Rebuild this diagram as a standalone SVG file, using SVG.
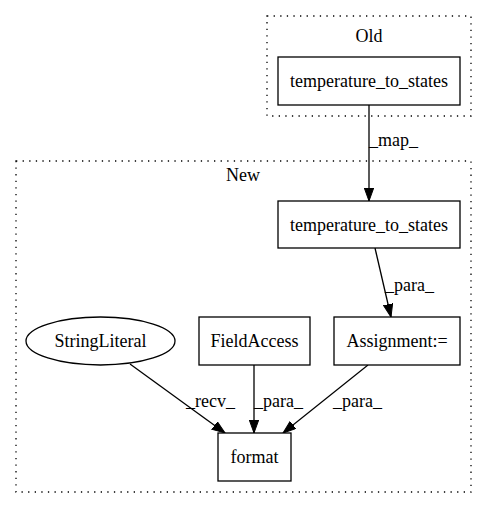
<svg xmlns="http://www.w3.org/2000/svg" width="487" height="508" viewBox="0 0 487 508">
<style>
text{font-family:"Liberation Serif","Times New Roman",serif;font-size:18px;fill:#000}
.c{text-anchor:middle}
.cl{fill:none;stroke:#000;stroke-width:1.3;stroke-dasharray:1.3,5.3}
.n{fill:#fff;stroke:#000;stroke-width:1.3}
.e{fill:none;stroke:#000;stroke-width:1.3;marker-end:url(#ah)}
</style>
<defs>
<marker id="ah" markerUnits="userSpaceOnUse" markerWidth="14" markerHeight="10" refX="13" refY="4.7" orient="auto">
<path d="M0,0 L13,4.7 L0,9.4 z" fill="#000" stroke="#000" stroke-width="1"/>
</marker>
</defs>
<rect width="487" height="508" fill="#fff"/>
<g id="cluster_old">
<rect class="cl" x="267" y="16" width="204" height="100"/>
<text class="c" x="369" y="42">Old</text>
</g>
<g id="cluster_new">
<rect class="cl" x="16" y="161" width="455" height="331"/>
<text class="c" x="243" y="181">New</text>
</g>
<g id="connectors">
<path class="e" d="M369,105 L369,201"/>
<text x="369" y="146">_map_</text>
<path class="e" d="M375,248 L391,317"/>
<text x="385" y="291">_para_</text>
<path class="e" d="M130,364 L225,433"/>
<text x="186" y="407">_recv_</text>
<path class="e" d="M254,365 L254,433"/>
<text x="254" y="407">_para_</text>
<path class="e" d="M368,365 L283,433"/>
<text x="333" y="407">_para_</text>
</g>
<g id="node_old_temp">
<rect class="n" x="278" y="57" width="182" height="48"/>
<text class="c" x="369" y="87">temperature_to_states</text>
</g>
<g id="node_new_temp">
<rect class="n" x="278" y="201" width="182" height="47"/>
<text class="c" x="369" y="230.5">temperature_to_states</text>
</g>
<g id="node_assignment">
<rect class="n" x="334" y="317" width="126" height="48"/>
<text class="c" x="397" y="347">Assignment:=</text>
</g>
<g id="node_fieldaccess">
<rect class="n" x="199" y="317" width="111" height="48"/>
<text class="c" x="254.5" y="347">FieldAccess</text>
</g>
<g id="node_stringliteral">
<ellipse class="n" cx="100.5" cy="341" rx="74.5" ry="24"/>
<text class="c" x="100.5" y="347">StringLiteral</text>
</g>
<g id="node_format">
<rect class="n" x="218" y="433" width="73" height="48"/>
<text class="c" x="254.5" y="463">format</text>
</g>
</svg>
